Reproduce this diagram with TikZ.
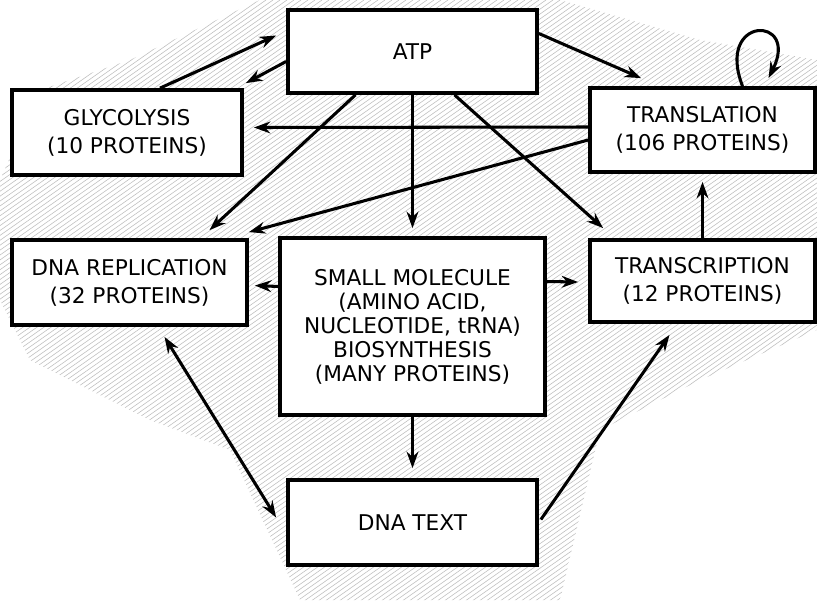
\documentclass[tikz,border=0pt]{standalone}
\usepackage{fontspec}
\setmainfont{DejaVu Sans}
\usetikzlibrary{calc, arrows.meta}
\tikzstyle{box} = [rectangle, draw=black, line width=3.2pt, fill=white, align=center, inner sep=2pt, font=\fontsize{18.5}{24}\selectfont]
\tikzstyle{arrow} = [line width=2.6pt,->,>={Stealth[length=14pt,width=10pt]}]
\tikzstyle{twoway} = [line width=2.6pt,<->,>={Stealth[length=14pt,width=10pt]}]
\tikzstyle{hatch} = [gray!50, line width=0.5pt]

\begin{document}
\begin{tikzpicture}[x=0.03cm,y=-0.03cm]
\useasboundingbox (0,0) rectangle (817,606);

% pencil shading behind the boxes
\begin{scope}
\clip (130,60)--(260,0)--(560,0)--(700,40)--(817,60)--(817,330)--(700,380)
	--(600,430)--(560,600)--(300,600)--(230,450)--(150,420)--(30,360)
	--(0,300)--(0,180)--(40,90)--cycle;
\foreach \x in {-900,-893,...,817}{
	\draw[hatch] (\x,606)--(\x+865,0);}
\end{scope}

% boxes
\node[box, minimum width=7.47cm, minimum height=2.49cm] (atp) at (412.5,51.5) {ATP};
\node[box, minimum width=6.9cm, minimum height=2.55cm] (glyc) at (127,132.5) {GLYCOLYSIS\\(10 PROTEINS)};
\node[box, minimum width=6.75cm, minimum height=2.52cm] (transl) at (702.5,130) {TRANSLATION\\(106 PROTEINS)};
\node[box, minimum width=7.05cm, minimum height=2.55cm] (dnarep) at (129.5,282.5) {DNA REPLICATION\\(32 PROTEINS)};
\node[box, minimum width=7.95cm, minimum height=5.31cm, font=\fontsize{18.5}{20.5}\selectfont] (small) at (412.5,326.5)
	{SMALL MOLECULE\\(AMINO ACID,\\NUCLEOTIDE, tRNA)\\BIOSYNTHESIS\\(MANY PROTEINS)};
\node[box, minimum width=6.75cm, minimum height=2.46cm] (transc) at (702.5,281) {TRANSCRIPTION\\(12 PROTEINS)};
\node[box, minimum width=7.47cm, minimum height=2.55cm] (dnatext) at (412.5,522.5) {DNA TEXT};

% connectors
\draw[arrow] ($(glyc.north)+(33,0)$) -- ($(atp.west)+(-10,-16)$);
\draw[arrow] ($(atp.west)+(0,10)$) -- ($(glyc.north east)+(2,-5)$);
\draw[arrow] ($(atp.east)+(0,-18)$) -- ($(transl.north west)+(53,-8)$);
\draw[arrow] ($(transl.north)+(40,0)$) .. controls (715,15) and (800,15) .. ($(transl.north)+(66,-8)$);
\draw[arrow] ($(transl.west)+(0,-3)$) -- ($(glyc.east)+(10,-5)$);
\draw[arrow] ($(transl.west)+(0,10)$) -- ($(dnarep.north east)+(0,-6)$);
\draw[arrow] ($(atp.south)+(-57,0)$) -- ($(dnarep.north)+(80,-8)$);
\draw[arrow] (atp.south) -- ($(small.north)+(0,-8)$);
\draw[arrow] ($(atp.south)+(42,0)$) -- ($(transc.north west)+(15,-10)$);
\draw[arrow] (transc.north) -- ($(transl.south)+(0,8)$);
\draw[arrow] ($(small.west)+(0,-40)$) -- ($(dnarep.east)+(6,3)$);
\draw[arrow] ($(small.east)+(0,-45)$) -- ($(transc.west)+(-10,1)$);
\draw[arrow] (small.south) -- ($(dnatext.north)+(0,-10)$);
\draw[twoway] ($(dnarep.south)+(35,10)$) -- ($(dnatext.west)+(-10,-5)$);
\draw[arrow] ($(dnatext.east)+(2,-3)$) -- ($(transc.south)+(-33,11)$);
\end{tikzpicture}
\end{document}
